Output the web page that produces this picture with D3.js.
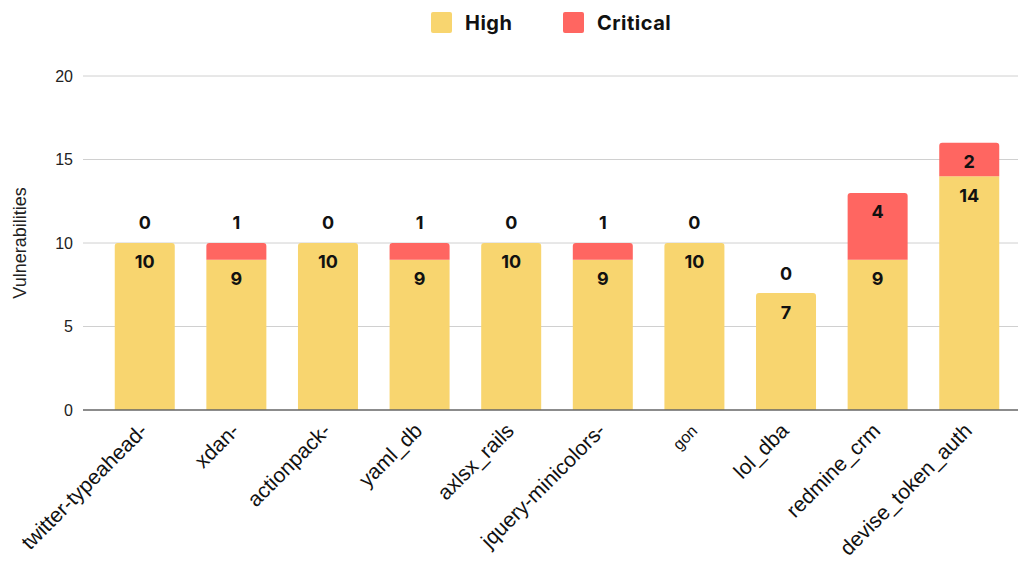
<!DOCTYPE html>
<html>
<head>
<meta charset="utf-8">
<script src="https://cdn.jsdelivr.net/npm/d3@7"></script>
<style>
  html, body { margin: 0; padding: 0; background: #fff; }
  svg { display: block; }
</style>
</head>
<body>
<svg id="chart" width="1018" height="562"></svg>
<script>
// Vulnerability counts per gem, split by severity
const categories = ["twitter-typeahead-", "xdan-", "actionpack-", "yaml_db", "axlsx_rails",
  "jquery-minicolors-", "gon", "lol_dba", "redmine_crm", "devise_token_auth"];
const high = [10, 9, 10, 9, 10, 9, 10, 7, 9, 14];
const critical = [0, 1, 0, 1, 0, 1, 0, 0, 4, 2];
const yTicks = [0, 5, 10, 15, 20];
const seriesNames = ["High", "Critical"];
const colors = { High: "#F8D56F", Critical: "#FF6661" };

const svg = d3.select("#chart");
const gridLeft = 83, gridRight = 1018;
const plotTop = 76, plotBottom = 410;

const x = d3.scaleBand().domain(categories).range([99, 1015]).paddingInner(0.345).paddingOuter(0.172);
const y = d3.scaleLinear().domain([0, 20]).range([plotBottom, plotTop]);

// gridlines
svg.append("g").selectAll("line").data(yTicks.filter(d => d > 0)).join("line")
  .attr("x1", gridLeft).attr("x2", gridRight)
  .attr("y1", d => y(d)).attr("y2", d => y(d))
  .attr("stroke", "#d0d0d0").attr("stroke-width", 1);

// y tick labels
svg.append("g").selectAll("text").data(yTicks).join("text")
  .attr("x", 73).attr("y", d => y(d)).attr("dy", "0.36em")
  .attr("text-anchor", "end")
  .attr("font-family", "Liberation Sans, Arial, sans-serif")
  .attr("font-size", 16).attr("fill", "#222")
  .text(d => d);

// y axis title
svg.append("text")
  .attr("transform", `translate(26,${(plotTop + plotBottom) / 2}) rotate(-90)`)
  .attr("text-anchor", "middle")
  .attr("font-family", "Liberation Sans, Arial, sans-serif")
  .attr("font-size", 18).attr("fill", "#222")
  .text("Vulnerabilities");

// stacked data
const rows = categories.map((c, i) => ({ cat: c, High: high[i], Critical: critical[i] }));
const stacked = d3.stack().keys(seriesNames)(rows);

// rect path with rounded top corners
function topRounded(x0, y0, w, h, r) {
  r = Math.min(r, h, w / 2);
  return `M${x0},${y0 + h}V${y0 + r}Q${x0},${y0} ${x0 + r},${y0}H${x0 + w - r}Q${x0 + w},${y0} ${x0 + w},${y0 + r}V${y0 + h}Z`;
}

const bw = x.bandwidth();
stacked.forEach(layer => {
  const key = layer.key;
  svg.append("g").selectAll("path").data(layer.filter(d => d[1] > d[0])).join("path")
    .attr("fill", colors[key])
    .attr("d", d => {
      const h = y(d[0]) - y(d[1]);
      const isTop = key === "Critical" || d.data.Critical === 0;
      const x0 = x(d.data.cat);
      return isTop ? topRounded(x0, y(d[1]), bw, h, 3) : `M${x0},${y(d[1])}h${bw}v${h}h${-bw}Z`;
    });
});

// baseline
svg.append("line")
  .attr("x1", gridLeft).attr("x2", gridRight)
  .attr("y1", y(0)).attr("y2", y(0))
  .attr("stroke", "#666").attr("stroke-width", 1.5);

// value labels
const labelFont = "Inter, 'DejaVu Sans', sans-serif";
stacked.forEach(layer => {
  svg.append("g").selectAll("text").data(layer).join("text")
    .attr("x", d => x(d.data.cat) + bw / 2)
    .attr("y", d => {
      const h = y(d[0]) - y(d[1]);
      // segments too short to hold a label get it above the bar
      if (h < 25) return y(d[1]) - 20;
      return y(d[1]) + 19;
    })
    .attr("dy", "0.36em")
    .attr("text-anchor", "middle")
    .attr("font-family", labelFont)
    .attr("font-weight", 700)
    .attr("font-size", 18)
    .attr("fill", "#111")
    .text(d => d[1] - d[0]);
});

// x axis labels
svg.append("g").selectAll("text").data(categories).join("text")
  .attr("transform", d => `translate(${x(d) + bw / 2 + 4},${y(0) + 22}) rotate(-45)`)
  .attr("text-anchor", "end")
  .attr("font-family", "Liberation Sans, Arial, sans-serif")
  .attr("font-size", d => d === "gon" ? 16 : 21)
  .attr("fill", "#111")
  .text(d => d);

// legend
const legend = svg.append("g");
const legendX = [431, 563];
seriesNames.forEach((k, i) => {
  legend.append("rect")
    .attr("x", legendX[i]).attr("y", 12).attr("width", 21).attr("height", 21)
    .attr("rx", 2).attr("fill", colors[k]);
  legend.append("text")
    .attr("x", legendX[i] + 34).attr("y", 22.5).attr("dy", "0.36em")
    .attr("font-family", labelFont).attr("font-weight", 700)
    .attr("font-size", 20).attr("letter-spacing", 0.5).attr("fill", "#111")
    .text(k);
});
</script>
</body>
</html>
